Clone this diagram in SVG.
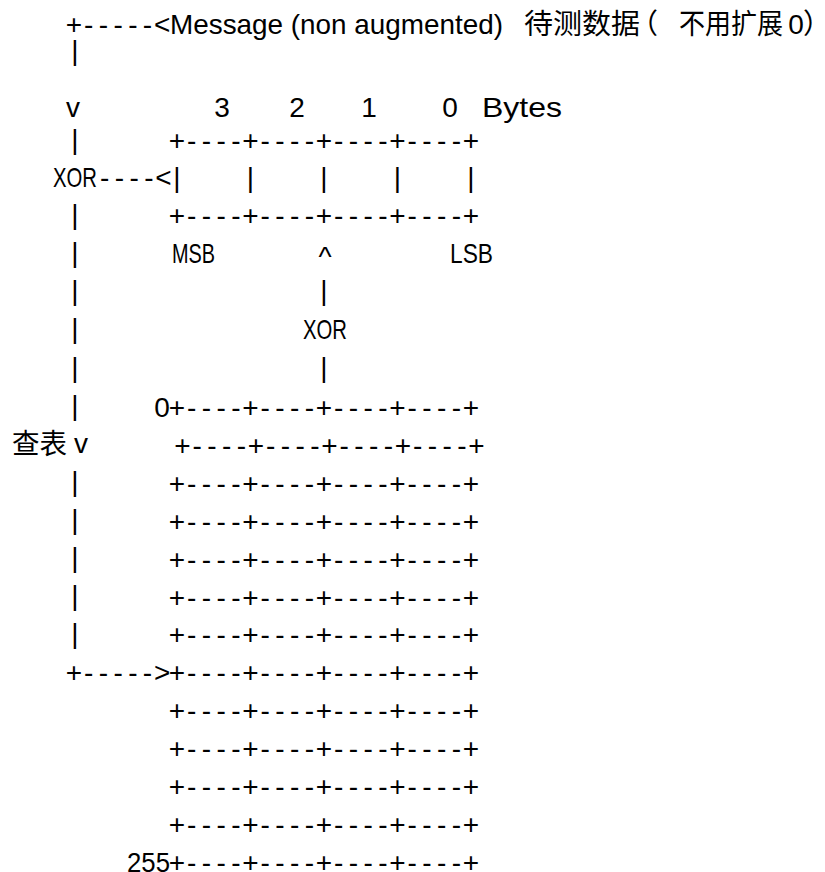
<svg xmlns="http://www.w3.org/2000/svg" xmlns:xlink="http://www.w3.org/1999/xlink" width="825" height="872" viewBox="0 0 825 872">
<style>
.t{font-family:"Liberation Sans",Arial,sans-serif;font-size:28px;fill:#000}
.m{text-anchor:middle}
.cjk{font-family:"Noto Sans CJK SC","Liberation Sans",sans-serif;font-size:28px;fill:#000}
</style>
<defs>
<text id="row" class="t m" x="177 191.7 206.4 221.1 235.8 250.5 265.2 279.9 294.6 309.3 324 338.7 353.4 368.1 382.8 397.5 412.2 426.9 441.6 456.3 471" y="0">+----+----+----+----+</text>
<text id="bar" class="t m" x="0" y="0">|</text>
</defs>
<rect width="825" height="872" fill="#fff"/>
<g id="message">
<text class="t" x="170" y="33.5" textLength="333" lengthAdjust="spacingAndGlyphs">Message (non augmented)</text>
<text class="cjk" x="524" y="33.5" textLength="116" lengthAdjust="spacingAndGlyphs">待测数据</text>
<text class="cjk" x="630" y="33.5">（</text>
<text class="cjk" x="679" y="33.5" textLength="104" lengthAdjust="spacingAndGlyphs">不用扩展</text>
<text class="t m" x="796" y="33.5">0</text>
<text class="cjk" x="803" y="33.5">）</text>
</g>
<g id="register">
<text class="t m" x="222" y="117">3</text>
<text class="t m" x="297" y="117">2</text>
<text class="t m" x="369" y="117">1</text>
<text class="t m" x="450" y="117">0</text>
<text class="t" x="482" y="117" textLength="80" lengthAdjust="spacingAndGlyphs">Bytes</text>
<use xlink:href="#row" y="150"/>
<use xlink:href="#bar" x="177" y="186.5"/>
<use xlink:href="#bar" x="250.5" y="186.5"/>
<use xlink:href="#bar" x="324" y="186.5"/>
<use xlink:href="#bar" x="397.5" y="186.5"/>
<use xlink:href="#bar" x="471" y="186.5"/>
<use xlink:href="#row" y="225"/>
<text class="t" x="172" y="263" textLength="43" lengthAdjust="spacingAndGlyphs">MSB</text>
<text class="t" x="450" y="263" textLength="43" lengthAdjust="spacingAndGlyphs">LSB</text>
</g>
<g id="xor-left">
<text class="t" x="53" y="187" textLength="44" lengthAdjust="spacingAndGlyphs">XOR</text>
</g>
<g id="xor-middle">
<text class="t" x="303" y="339" textLength="44" lengthAdjust="spacingAndGlyphs">XOR</text>
</g>
<g id="table">
<text class="t m" x="162" y="417">0</text>
<use xlink:href="#row" y="417"/>
<use xlink:href="#row" x="5.5" y="454.5"/>
<use xlink:href="#row" y="492.5"/>
<use xlink:href="#row" y="530.5"/>
<use xlink:href="#row" y="568.5"/>
<use xlink:href="#row" y="606.5"/>
<use xlink:href="#row" y="644"/>
<use xlink:href="#row" y="682"/>
<use xlink:href="#row" y="720"/>
<use xlink:href="#row" y="758"/>
<use xlink:href="#row" y="796"/>
<use xlink:href="#row" y="834"/>
<use xlink:href="#row" y="871.5"/>
<text class="t" x="127" y="871.5" textLength="43" lengthAdjust="spacingAndGlyphs">255</text>
</g>
<g id="lookup-label">
<text class="cjk" x="12" y="454" textLength="55" lengthAdjust="spacingAndGlyphs">查表</text>
</g>
<g id="connectors">
<text class="t m" x="74 88.7 103.4 118.1 132.8 147.5 162.2" y="33.5">+-----&lt;</text>
<use xlink:href="#bar" x="75" y="60"/>
<text class="t m" x="73" y="117">v</text>
<use xlink:href="#bar" x="75" y="149"/>
<text class="t m" x="104.7 119.4 134.1 148.8 163.5" y="187">----&lt;</text>
<use xlink:href="#bar" x="75" y="224"/>
<use xlink:href="#bar" x="75" y="262"/>
<use xlink:href="#bar" x="75" y="300"/>
<use xlink:href="#bar" x="75" y="338"/>
<use xlink:href="#bar" x="75" y="377"/>
<use xlink:href="#bar" x="75" y="415"/>
<text class="t m" x="81" y="453">v</text>
<use xlink:href="#bar" x="75" y="491"/>
<use xlink:href="#bar" x="75" y="529"/>
<use xlink:href="#bar" x="75" y="567"/>
<use xlink:href="#bar" x="75" y="605"/>
<use xlink:href="#bar" x="75" y="643"/>
<text class="t m" x="74 88.7 103.4 118.1 132.8 147.5 162.2" y="682">+-----&gt;</text>
<text class="t m" x="325" y="266">^</text>
<use xlink:href="#bar" x="324" y="300"/>
<use xlink:href="#bar" x="324" y="377"/>
</g>
</svg>
